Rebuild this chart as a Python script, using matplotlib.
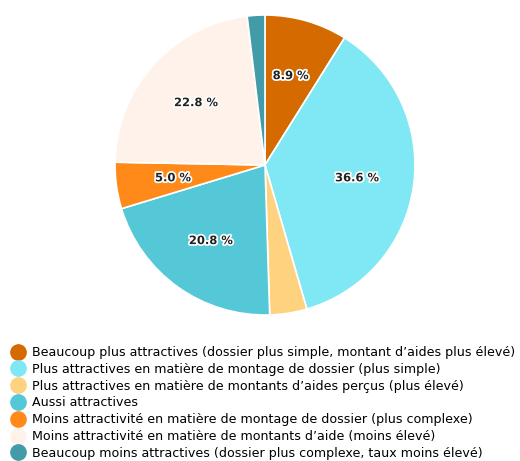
import matplotlib.pyplot as plt
import matplotlib.patheffects as pe
from matplotlib.lines import Line2D

labels = [
    "Beaucoup plus attractives (dossier plus simple, montant d\u2019aides plus élevé)",
    "Plus attractives en matière de montage de dossier (plus simple)",
    "Plus attractives en matière de montants d\u2019aides perçus (plus élevé)",
    "Aussi attractives",
    "Moins attractivité en matière de montage de dossier (plus complexe)",
    "Moins attractivité en matière de montants d\u2019aide (moins élevé)",
    "Beaucoup moins attractives (dossier plus complexe, taux moins élevé)",
]
values = [8.9, 36.6, 4.0, 20.8, 5.0, 22.8, 1.9]
colors = ["#D46A00", "#80E8F4", "#FFD27F", "#55C8D8", "#FF8A1A", "#FFF2EA", "#419BA8"]

W, H = 520, 461
fig = plt.figure(figsize=(W / 100, H / 100), dpi=100)

# pie: centre ~ (265,165) px, radius ~150 px
cx, cy, r = 265, 165, 150
ax = fig.add_axes([(cx - r) / W, (H - cy - r) / H, 2 * r / W, 2 * r / H])

def fmt(p):
    return "%.1f %%" % p if p >= 4.95 else ""

wedges, texts, autotexts = ax.pie(
    values, colors=colors, startangle=90, counterclock=False,
    autopct=fmt, pctdistance=0.62,
    wedgeprops=dict(edgecolor="white", linewidth=1.2),
    textprops=dict(fontsize=8.3, color="#222222", fontweight="bold"),
)
for t in autotexts:
    t.set_path_effects([pe.withStroke(linewidth=2.5, foreground="white")])
ax.set_xlim(-1, 1)
ax.set_ylim(-1, 1)
ax.set_aspect("equal")

handles = [Line2D([], [], marker="o", linestyle="", markersize=11,
                  markerfacecolor=c, markeredgecolor=c) for c in colors]
fig.legend(handles, labels, loc="upper left", bbox_to_anchor=(11 / W, 1 - 346 / H),
           frameon=False, fontsize=9.1, handlelength=1.1, handletextpad=0.6,
           labelspacing=0.3, borderpad=0, borderaxespad=0)

fig.savefig("out.png", dpi=100)
